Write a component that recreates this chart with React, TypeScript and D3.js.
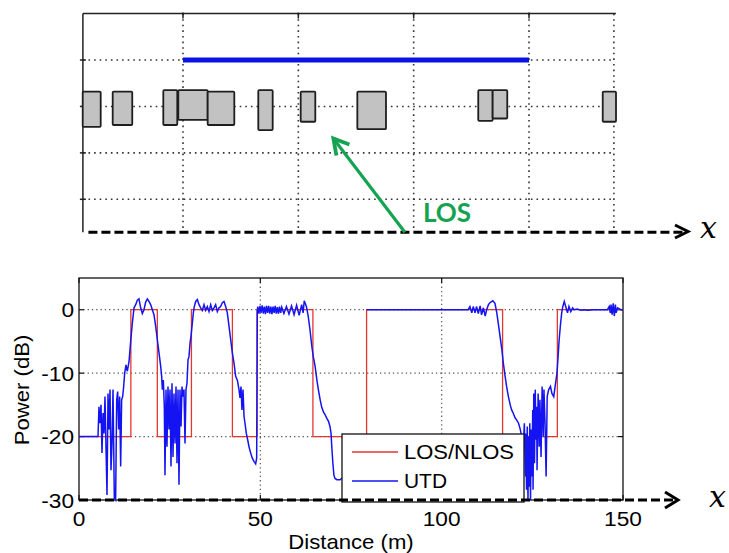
import React from 'react';
import * as d3 from 'd3';

// ---------- Data ----------
// Bottom chart axes
const xTicks = [0, 50, 100, 150];
const yTicks = [-30, -20, -10, 0];
const xGrid = [50, 100];
const yGrid = [-20, -10, 0];

// LOS/NLOS step signal: [distance (m), power (dB)]
const losNlos: [number, number][] = [
  [0, -20], [14.3, -20], [14.3, 0], [21.6, 0], [21.6, -20], [31.0, -20], [31.0, 0], [42.3, 0],
  [42.3, -20], [49.1, -20], [49.1, 0], [64.5, 0], [64.5, -20], [79.3, -20], [79.3, 0],
  [116.8, 0], [116.8, -20], [131.9, -20], [131.9, 0], [150, 0],
];

// UTD power, segment 1 (0 - 49 m)
const utdA: [number, number][] = [
  [0, -20], [5.1, -20], [5.24, -20], [5.51, -15.3], [5.79, -17.9], [6.07, -15.0], [6.34, -22.6],
  [6.62, -16.3], [6.89, -19.5], [7.17, -13.7], [7.44, -21.6], [7.72, -29.2], [8.0, -13.2],
  [8.27, -18.9], [8.55, -12.6], [8.82, -25.3], [9.1, -21.1], [9.38, -12.6], [9.74, -29.7],
  [10.1, -30], [10.39, -14.2], [10.66, -12.9], [10.94, -18.9], [11.21, -13.7], [11.49, -24.7],
  [11.76, -14.2], [12.04, -13.7], [12.32, -12.1], [12.59, -10], [12.96, -8.7], [13.33, -9.7],
  [13.79, -8.2], [14.25, -5.0], [14.71, -2.1], [15.17, 0.3], [15.63, 0.8], [16.08, 1.5],
  [16.54, 1.7], [17.0, 0.3], [17.46, -0.6], [17.92, 0], [18.38, 1.2], [18.84, 1.7], [19.3, 1.3],
  [19.76, 0.8], [20.22, 0], [20.68, -0.8], [21.14, -2.6], [21.6, -4.7], [22.06, -6.8],
  [22.52, -8.9], [22.79, -10.5], [22.98, -12.6], [23.25, -11.1], [23.53, -15.3], [23.71, -26.1],
  [23.99, -12.6], [24.26, -21.6], [24.54, -12.1], [24.82, -18.9], [25.09, -12.6], [25.37, -24.7],
  [25.64, -11.6], [25.92, -23.2], [26.19, -13.2], [26.47, -21.1], [26.75, -12.1], [27.02, -24.2],
  [27.3, -12.6], [27.57, -27.6], [27.85, -12.6], [28.13, -18.4], [28.4, -12.1], [28.68, -13.7],
  [28.95, -12.6], [29.23, -21.1], [29.5, -12.6], [29.78, -11.6], [30.06, -7.9], [30.33, -7.4],
  [30.61, -5.3], [30.88, -4.2], [31.25, -2.1], [31.53, -0.5], [31.8, 0.5], [32.17, 1.3],
  [32.63, 1.6], [33.09, 0.8], [33.55, 0.3], [34.0, -0.1], [34.47, 0.8], [34.93, -0.1],
  [35.39, 0.5], [35.85, -0.3], [36.31, 0.8], [36.76, -0.1], [37.22, 0.3], [37.68, 0.8],
  [38.14, -0.3], [38.6, 0.3], [39.06, 0.5], [39.52, 1.1], [39.98, 1.3], [40.44, 0.5],
  [40.9, -0.5], [41.36, -2.6], [41.82, -4.7], [42.28, -6.8], [42.74, -8.4], [43.2, -10.5],
  [43.66, -11.1], [44.12, -12.6], [44.39, -13.9], [44.67, -12.1], [44.94, -15.8], [45.22, -12.6],
  [45.5, -16.8], [45.77, -17.9], [46.14, -19.5], [46.51, -20.5], [46.88, -21.6], [47.33, -22.6],
  [47.79, -23.4], [48.25, -23.9], [48.71, -24.3], [48.99, -23.4], [49.17, 0],
];

// UTD power, segment 2 (49 - 73 m)
const utdB: [number, number][] = [
  [49.17, 0], [49.3, 0.5], [49.6, -0.6], [49.9, 0.6], [50.2, -0.5], [50.5, 0.7], [50.8, -0.6],
  [51.1, 0.5], [51.4, -0.7], [51.7, 0.6], [52.0, -0.5], [52.3, 0.6], [52.6, -0.6], [52.9, 0.5],
  [53.2, -0.7], [53.5, 0.5], [53.8, -0.5], [54.1, 0.6], [54.4, -0.6], [54.7, 0.4], [55.0, -0.6],
  [55.3, 0.5], [55.6, -0.5], [55.9, 0.4], [56.5, -0.6], [57.2, 0.5], [57.9, -0.7], [58.6, 0.6],
  [59.3, -0.8], [60.0, 0.7], [60.7, -0.9], [61.4, 0.8], [61.8, -0.5], [62.1, 1.4], [62.7, 0.5],
  [63.2, -1.0], [63.7, -3.2], [64.2, -5.8], [64.6, -7.4], [65.1, -8.9], [65.6, -11.1],
  [66.0, -12.6], [66.5, -14.2], [66.9, -15.3], [67.4, -16.1], [67.9, -16.6], [68.3, -17.1],
  [68.8, -17.6], [69.2, -18.4], [69.5, -19.5], [69.7, -21.6], [70.0, -24.2], [70.3, -26.1],
  [70.6, -26.6], [71.1, -26.8], [72.0, -26.8], [72.6, -26.5],
];

// UTD power, segment 3 (79 - 150 m)
const utdC: [number, number][] = [
  [79.3, 0], [107.3, 0], [107.8, 0.5], [108.3, -0.5], [108.7, 0.5], [109.2, -0.5], [109.6, 0.5],
  [110.1, -0.6], [110.6, 0.6], [111.0, -0.8], [111.5, 0.3], [112.0, -1.0], [112.4, 0],
  [112.9, 0.8], [113.3, 1.1], [114.1, 1.4], [114.7, 1.0], [115.2, -0.5], [115.6, -2.1],
  [116.1, -4.2], [116.6, -6.3], [117.0, -8.4], [117.5, -10.5], [117.9, -12.1], [118.4, -13.7],
  [118.9, -15.0], [119.3, -15.8], [119.8, -16.4], [120.2, -17.0], [120.7, -17.4], [121.2, -17.9],
  [121.6, -18.7], [122.1, -20], [122.5, -21.6], [122.8, -17.9], [123.1, -26.3], [123.2, -19.5],
  [123.4, -28.4], [123.6, -18.4], [123.8, -30], [124.0, -20], [124.1, -27.9], [124.3, -17.9],
  [124.5, -30], [124.7, -18.9], [124.9, -26.3], [125.1, -15.8], [125.2, -28.4], [125.4, -13.2],
  [125.6, -24.2], [125.8, -12.6], [126.0, -20.5], [126.2, -15.3], [126.3, -25.3], [126.6, -13.2],
  [126.9, -21.6], [127.1, -14.2], [127.4, -23.2], [127.7, -12.1], [128.0, -20], [128.2, -12.6],
  [128.5, -17.9], [128.8, -26.3], [129.1, -13.7], [129.5, -12.6], [130.0, -12.1], [130.4, -13.2],
  [130.9, -13.7], [131.4, -11.6], [131.8, -10], [132.1, -7.4], [132.4, -4.7], [132.8, -2.1],
  [133.1, -0.5], [133.4, 0.5], [133.8, 1.3], [134.2, 0.5], [134.7, -0.5], [135.1, 0.5],
  [135.6, -0.3], [136.1, 0.3], [136.5, 0], [137.4, 0.1], [138.4, -0.1], [139.3, 0], [140.2, -0.1],
  [142.0, 0], [143.9, 0], [145.7, 0], [146.2, 0.5], [146.5, -0.5], [146.7, 0.8], [147.0, -0.8],
  [147.3, 1.0], [147.6, -1.0], [147.9, 0.8], [148.1, -0.5], [148.5, 0.3], [149.4, 0], [150, 0],
];

const legendLabels = ['LOS/NLOS', 'UTD'];

// Top scene (street): grid columns (m) and rows (lanes)
const topXGrid = [25, 50, 75, 100];
const topYGrid = [1, 2, 3, 4];
const losSegment = [25, 100];
// buildings: [x0, x1, yTop, yBottom]
const buildings: [number, number, number, number][] = [
  [3.26, 7.16, 3.32, 2.56], [9.76, 14.0, 3.32, 2.6], [20.73, 23.76, 3.35, 2.6],
  [23.98, 30.35, 3.35, 2.71], [30.35, 36.12, 3.32, 2.6], [41.32, 44.44, 3.35, 2.49],
  [50.51, 53.68, 3.32, 2.67], [62.79, 69.0, 3.32, 2.51], [89.0, 92.12, 3.35, 2.69],
  [92.12, 95.29, 3.35, 2.74], [115.98, 118.86, 3.32, 2.67],
];

export default function App() {
  // bottom chart scales
  const xB = d3.scaleLinear().domain([0, 150]).range([79, 623]);
  const yB = d3.scaleLinear().domain([-30, 5]).range([500, 278]);
  // top scene scales
  const xT = d3.scaleLinear().domain([25, 100]).range([183, 529]);
  const yT = d3.scaleLinear().domain([1, 4]).range([199.3, 60]);
  const tLeft = 3.3, tRight = 118.4, tTop = 5.0, tBot = 0.29;

  const line = d3.line<[number, number]>().x(d => xB(d[0])).y(d => yB(d[1]));

  const font = '"Liberation Sans", Arial, sans-serif';
  const red = '#e2392f';
  const blue = '#1414f2';

  const stretch = (x: number, y: number) => `translate(${x},${y}) scale(1.08,1)`;

  const x0 = xB(0), x1 = xB(150), yTopB = yB(5), yBotB = yB(-30);

  return (
    <svg width={729} height={553} style={{ position: 'absolute', left: 0, top: 0, background: '#fff' }}
      fontFamily={font}>
      <rect x={0} y={0} width={729} height={553} fill="#fff" />

      {/* ---------------- TOP SCENE ---------------- */}
      <g>
        {topYGrid.map(v => (
          <line key={'ty' + v} x1={xT(tLeft)} x2={xT(tRight)} y1={yT(v)} y2={yT(v)}
            stroke="#333" strokeWidth={1.6} strokeDasharray="1.6,4" />
        ))}
        {topXGrid.concat([tRight]).map(v => (
          <line key={'tx' + v} x1={xT(v)} x2={xT(v)} y1={yT(tTop)} y2={yT(tBot)}
            stroke="#333" strokeWidth={1.6} strokeDasharray="1.6,4" />
        ))}
        {/* axes */}
        <line x1={xT(tLeft)} x2={xT(tRight) + 2} y1={yT(tTop)} y2={yT(tTop)} stroke="#222" strokeWidth={1.5} />
        <line x1={xT(tLeft)} x2={xT(tLeft)} y1={yT(tTop)} y2={yT(tBot)} stroke="#222" strokeWidth={1.5} />
        {topYGrid.map(v => (
          <line key={'tyt' + v} x1={xT(tLeft) - 3} x2={xT(tLeft) + 3} y1={yT(v)} y2={yT(v)} stroke="#222" strokeWidth={1.5} />
        ))}
        {topXGrid.map(v => (
          <line key={'txt' + v} x1={xT(v)} x2={xT(v)} y1={yT(tTop) - 1} y2={yT(tTop) + 5} stroke="#222" strokeWidth={1.5} />
        ))}
        {/* LOS segment */}
        <line x1={xT(losSegment[0])} x2={xT(losSegment[1])} y1={yT(4)} y2={yT(4)} stroke="#0b12e6" strokeWidth={5} />
        {/* buildings */}
        {buildings.map((b, i) => (
          <rect key={'b' + i} x={xT(b[0])} y={yT(b[2])} width={xT(b[1]) - xT(b[0])} height={yT(b[3]) - yT(b[2])}
            fill="#c2c2c2" stroke="#1e1e1e" strokeWidth={1.8} rx={1} />
        ))}
        {/* dashed x axis */}
        <line x1={xT(4.5)} x2={686} y1={yT(tBot)} y2={yT(tBot)} stroke="#000" strokeWidth={3.2} strokeDasharray="9,4" />
        <polyline points={`675,225 688,231.5 675,238`} fill="none" stroke="#000" strokeWidth={3} />
        <text x={700} y={238} fontFamily='"DejaVu Serif", serif' fontStyle="italic" fontSize={30}>x</text>
        {/* green LOS arrow */}
        <line x1={xT(73.1)} y1={yT(tBot)} x2={xT(57.6) + 1.5} y2={yT(2.31) + 2} stroke="#15a352" strokeWidth={3.2} />
        <polyline points={`${xT(57.6) + 16},${yT(2.31) + 6} ${xT(57.6)},${yT(2.31)} ${xT(57.6) + 3},${yT(2.31) + 17}`}
          fill="none" stroke="#15a352" strokeWidth={3.8} strokeLinejoin="miter" />
        <text x={xT(77.0)} y={222} fontFamily='Lato, "Open Sans", sans-serif' fontWeight="bold" fontSize={26} fill="#15a352">LOS</text>
      </g>

      {/* ---------------- BOTTOM CHART ---------------- */}
      <g>
        {yGrid.map(v => (
          <line key={'gy' + v} x1={x0} x2={x1} y1={yB(v)} y2={yB(v)} stroke="#555" strokeWidth={1.2} strokeDasharray="1.3,3" />
        ))}
        {xGrid.map(v => (
          <line key={'gx' + v} x1={xB(v)} x2={xB(v)} y1={yTopB} y2={yBotB} stroke="#555" strokeWidth={1.2} strokeDasharray="1.3,3" />
        ))}
        <rect x={x0} y={yTopB} width={x1 - x0} height={yBotB - yTopB} fill="none" stroke="#111" strokeWidth={1.3} />
        {yTicks.map(v => (
          <g key={'yt' + v}>
            <line x1={x0} x2={x0 + 5} y1={yB(v)} y2={yB(v)} stroke="#111" strokeWidth={1.2} />
            <line x1={x1 - 5} x2={x1} y1={yB(v)} y2={yB(v)} stroke="#111" strokeWidth={1.2} />
            <text transform={stretch(74, yB(v) + 7.5)} textAnchor="end" fontSize={21}>{v}</text>
          </g>
        ))}
        {xTicks.map(v => (
          <g key={'xt' + v}>
            <line x1={xB(v)} x2={xB(v)} y1={yBotB} y2={yBotB - 5} stroke="#111" strokeWidth={1.2} />
            <line x1={xB(v)} x2={xB(v)} y1={yTopB} y2={yTopB + 5} stroke="#111" strokeWidth={1.2} />
            <text transform={stretch(xB(v), 526)} textAnchor="middle" fontSize={21}>{v}</text>
          </g>
        ))}
        <path d={line(losNlos) || ''} fill="none" stroke={red} strokeWidth={1.3} />
        <path d={line(utdA) || ''} fill="none" stroke={blue} strokeWidth={1.5} />
        <path d={line(utdB) || ''} fill="none" stroke={blue} strokeWidth={1.5} />
        <path d={line(utdC) || ''} fill="none" stroke={blue} strokeWidth={1.5} />

        {/* legend */}
        <rect x={342} y={434} width={182} height={68} fill="#fff" stroke="#111" strokeWidth={1.3} />
        <line x1={352} x2={398} y1={452} y2={452} stroke={red} strokeWidth={1.3} />
        <line x1={352} x2={398} y1={481} y2={481} stroke={blue} strokeWidth={1.3} />
        <text x={404} y={459} fontSize={19.5} textLength={110} lengthAdjust="spacingAndGlyphs">{legendLabels[0]}</text>
        <text x={404} y={488} fontSize={19.5} textLength={43} lengthAdjust="spacingAndGlyphs">{legendLabels[1]}</text>

        {/* dashed x axis overlay */}
        <line x1={x0} x2={676} y1={yBotB} y2={yBotB} stroke="#000" strokeWidth={3.2} strokeDasharray="9,4" />
        <polyline points={`665,492 678,500 665,508`} fill="none" stroke="#000" strokeWidth={3} />
        <text x={709} y={507} fontFamily='"DejaVu Serif", serif' fontStyle="italic" fontSize={30}>x</text>

        {/* axis labels */}
        <text transform={`translate(29,390) rotate(-90) scale(1.08,1)`} textAnchor="middle" fontSize={20.5}>Power (dB)</text>
        <text transform={stretch(351, 549)} textAnchor="middle" fontSize={20.5}>Distance (m)</text>
      </g>
    </svg>
  );
}
